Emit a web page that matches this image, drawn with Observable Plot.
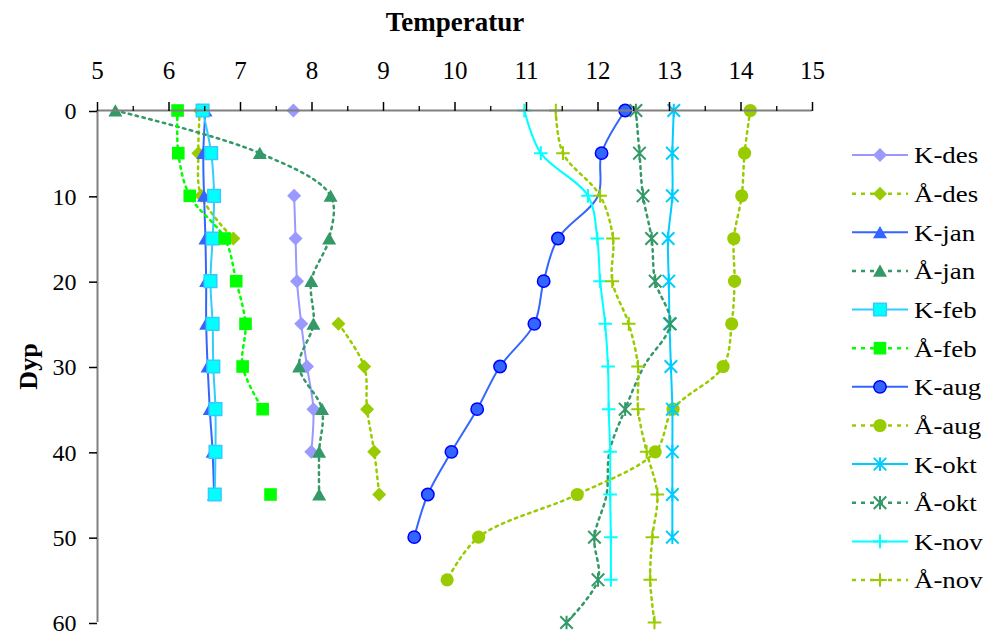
<!DOCTYPE html>
<html>
<head>
<meta charset="utf-8">
<script src="https://cdn.jsdelivr.net/npm/d3@7"></script>
<script src="https://cdn.jsdelivr.net/npm/@observablehq/plot@0.6"></script>
<style>
html, body { margin: 0; padding: 0; background: #fff; }
#wrap { position: relative; width: 987px; height: 631px; overflow: hidden; font-family: "Liberation Serif", "Times New Roman", serif; }
#wrap svg { display: block; }
#legend { position: absolute; left: 0; top: 0; pointer-events: none; }
</style>
</head>
<body>
<div id="wrap"></div>
<script>
// ---- Data ----
const depths = [0, 5, 10, 15, 20, 25, 30, 35, 40, 45, 50, 55, 60];
const xTicks = [5, 6, 7, 8, 9, 10, 11, 12, 13, 14, 15];
const xMinorTicks = [5.5, 6.5, 7.5, 8.5, 9.5, 10.5, 11.5, 12.5, 13.5, 14.5];
const yTicks = [0, 10, 20, 30, 40, 50, 60];
const seriesNames = ["K-des", "Å-des", "K-jan", "Å-jan", "K-feb", "Å-feb", "K-aug", "Å-aug", "K-okt", "Å-okt", "K-nov", "Å-nov"];

const kDes = [7.74, null, 7.75, 7.77, 7.79, 7.85, 7.93, 8.02, 7.99, null, null, null, null];
const aDes = [6.43, 6.41, 6.45, 6.90, null, 8.37, 8.73, 8.77, 8.87, 8.94, null, null, null];
const kJan = [6.51, 6.48, 6.49, 6.51, 6.52, 6.52, 6.54, 6.57, 6.61, 6.63, null, null, null];
const aJan = [5.25, 7.27, 8.26, 8.24, 7.99, 8.02, 7.82, 8.14, 8.10, 8.10, null, null, null];
const kFeb = [6.47, 6.59, 6.63, 6.61, 6.58, 6.61, 6.62, 6.65, 6.65, 6.64, null, null, null];
const aFeb = [6.12, 6.13, 6.29, 6.78, 6.94, 7.07, 7.03, 7.31, null, 7.42, null, null, null];
const kAug = [12.38, 12.05, 12.00, 11.44, 11.24, 11.11, 10.63, 10.31, 9.95, 9.62, 9.43, null, null];
const aAug = [14.13, 14.05, 14.01, 13.90, 13.91, 13.87, 13.75, 13.05, 12.80, 11.71, 10.33, 9.89, null];
const kOkt = [13.06, 13.04, 13.04, 12.98, 12.99, 13.00, 13.02, 13.04, 13.04, 13.04, 13.04, null, null];
const aOkt = [12.53, 12.58, 12.63, 12.75, 12.80, 13.01, 12.64, 12.38, 12.16, 12.12, 11.95, 12.00, 11.56];
const kNov = [10.97, 11.20, 11.86, 11.99, 12.03, 12.10, 12.14, 12.15, 12.17, 12.17, 12.18, 12.18, null];
const aNov = [11.41, 11.51, 12.03, 12.21, 12.20, 12.43, 12.56, 12.56, 12.68, 12.83, 12.76, 12.73, 12.79];
// points whose marker is not shown in the reference (line passes through them)
const hiddenMarkers = [["K-aug", 10], ["Å-okt", 30], ["Å-okt", 40], ["Å-okt", 45]];

const seriesValues = [kDes, aDes, kJan, aJan, kFeb, aFeb, kAug, aAug, kOkt, aOkt, kNov, aNov];

// ---- Marker shapes (Excel-like) ----
const rad = s => Math.sqrt(s / Math.PI);
const symDiamond = {draw(c, s) { const r = rad(s); c.moveTo(0, -r); c.lineTo(r, 0); c.lineTo(0, r); c.lineTo(-r, 0); c.closePath(); }};
const symTriangle = {draw(c, s) { const r = rad(s); c.moveTo(0, -0.9 * r); c.lineTo(r, 0.85 * r); c.lineTo(-r, 0.85 * r); c.closePath(); }};
const symSquare = {draw(c, s) { const r = rad(s); c.rect(-r, -r, 2 * r, 2 * r); }};
const symCircle = {draw(c, s) { const r = rad(s); c.moveTo(r, 0); c.arc(0, 0, r, 0, 2 * Math.PI); c.closePath(); }};
const symStar = {draw(c, s) { const r = rad(s), q = 0.92 * r; c.moveTo(-q, -q); c.lineTo(q, q); c.moveTo(-q, q); c.lineTo(q, -q); c.moveTo(0, -r); c.lineTo(0, r); }};
const symPlus = {draw(c, s) { const r = rad(s); c.moveTo(-r, 0); c.lineTo(r, 0); c.moveTo(0, -r); c.lineTo(0, r); }};

const FONT = "'Liberation Serif', 'Times New Roman', serif";
const DOT = "2.5,4.5";
const styles = {
  "K-des": {line: "#9999FF", dash: null, sym: symDiamond, r: 7, fill: "#9999FF", stroke: "none"},
  "Å-des": {line: "#99CC00", dash: DOT, sym: symDiamond, r: 7, fill: "#99CC00", stroke: "none"},
  "K-jan": {line: "#3366FF", dash: null, sym: symTriangle, r: 7, fill: "#3366FF", stroke: "none"},
  "Å-jan": {line: "#339966", dash: DOT, sym: symTriangle, r: 7, fill: "#339966", stroke: "none"},
  "K-feb": {line: "#33CCFF", dash: null, sym: symSquare, r: 6.3, fill: "#00FFFF", stroke: "#33CCFF", sw: 1.5},
  "Å-feb": {line: "#00FF00", dash: DOT, sym: symSquare, r: 6.3, fill: "#00FF00", stroke: "none"},
  "K-aug": {line: "#3366FF", dash: null, sym: symCircle, r: 6.2, fill: "#3366FF", stroke: "#0000FF", sw: 1.5},
  "Å-aug": {line: "#99CC00", dash: DOT, sym: symCircle, r: 6.6, fill: "#99CC00", stroke: "none"},
  "K-okt": {line: "#00CCFF", dash: null, sym: symStar, r: 6.8, fill: "none", stroke: "#00CCFF", sw: 2},
  "Å-okt": {line: "#339966", dash: DOT, sym: symStar, r: 6.8, fill: "none", stroke: "#339966", sw: 2},
  "K-nov": {line: "#00FFFF", dash: null, sym: symPlus, r: 6.8, fill: "none", stroke: "#00FFFF", sw: 2},
  "Å-nov": {line: "#99CC00", dash: DOT, sym: symPlus, r: 6.8, fill: "none", stroke: "#99CC00", sw: 2}
};

// ---- Build marks ----
const seriesMarks = [];
seriesNames.forEach((name, k) => {
  const st = styles[name];
  const rows = depths.map((d, i) => ({series: name, depth: d, temp: seriesValues[k][i]}));
  seriesMarks.push(Plot.line(rows, {
    x: "temp", y: "depth", stroke: st.line, strokeWidth: st.dash ? 2.5 : 2,
    strokeDasharray: st.dash || undefined, curve: "catmull-rom"
  }));
  const pts = rows.filter(r => r.temp != null && !hiddenMarkers.some(([n, d]) => n === name && d === r.depth));
  seriesMarks.push(Plot.dot(pts, {
    x: "temp", y: "depth", symbol: st.sym, r: st.r,
    fill: st.fill, stroke: st.stroke, strokeWidth: st.sw || 1
  }));
});

const chart = Plot.plot({
  width: 987,
  height: 631,
  marginLeft: 97,
  marginRight: 175,
  marginTop: 110,
  marginBottom: 9,
  x: {domain: [5, 15]},
  y: {domain: [0, 60], reverse: true},
  style: {fontFamily: FONT, fontSize: "25px", color: "#000", background: "#fff", overflow: "visible"},
  marks: [
    ...seriesMarks,
    Plot.ruleY([0], {stroke: "#808080", strokeWidth: 2}),
    Plot.ruleX([5], {stroke: "#808080", strokeWidth: 2}),
    Plot.axisX(xMinorTicks, {anchor: "top", tickSize: 5, tickFormat: () => "", label: null, strokeWidth: 1.3}),
    Plot.axisX(xTicks, {anchor: "top", tickSize: 9, tickPadding: 23, fontSize: 25, fontFamily: FONT, label: null, strokeWidth: 1.5, tickFormat: d => String(d)}),
    Plot.axisY(yTicks, {anchor: "left", tickSize: 8, tickPadding: 13, fontSize: 24, fontFamily: FONT, label: null, strokeWidth: 1.5, tickFormat: d => String(d), dy: 1}),
    Plot.text(["Temperatur"], {frameAnchor: "top", dy: -88, lineAnchor: "middle", fontSize: 27, fontWeight: "bold", fontFamily: FONT}),
    Plot.text(["Dyp"], {frameAnchor: "left", dx: -69, rotate: -90, textAnchor: "middle", lineAnchor: "middle", fontSize: 26, fontWeight: "bold", fontFamily: FONT})
  ]
});
document.getElementById("wrap").appendChild(chart);

// ---- Legend (right side) ----
const legend = d3.select("#wrap").append("svg")
  .attr("id", "legend").attr("width", 987).attr("height", 631);
seriesNames.forEach((name, i) => {
  const st = styles[name];
  const y = 155 + i * 38.64;
  const g = legend.append("g").attr("transform", `translate(0,${y})`);
  g.append("line").attr("x1", 852).attr("x2", 908).attr("y1", 0).attr("y2", 0)
    .attr("stroke", st.line).attr("stroke-width", st.dash ? 2.5 : 2)
    .attr("stroke-dasharray", st.dash ? "4,5" : null);
  g.append("path").attr("transform", "translate(880,0)")
    .attr("d", d3.symbol(st.sym, Math.PI * st.r * st.r)())
    .attr("fill", st.fill).attr("stroke", st.stroke).attr("stroke-width", st.sw || 1);
  g.append("text").attr("transform", "translate(914,0) scale(1.12,1)").attr("dy", "0.35em")
    .attr("font-family", FONT)
    .attr("font-size", 24).text(name);
});
</script>
</body>
</html>
